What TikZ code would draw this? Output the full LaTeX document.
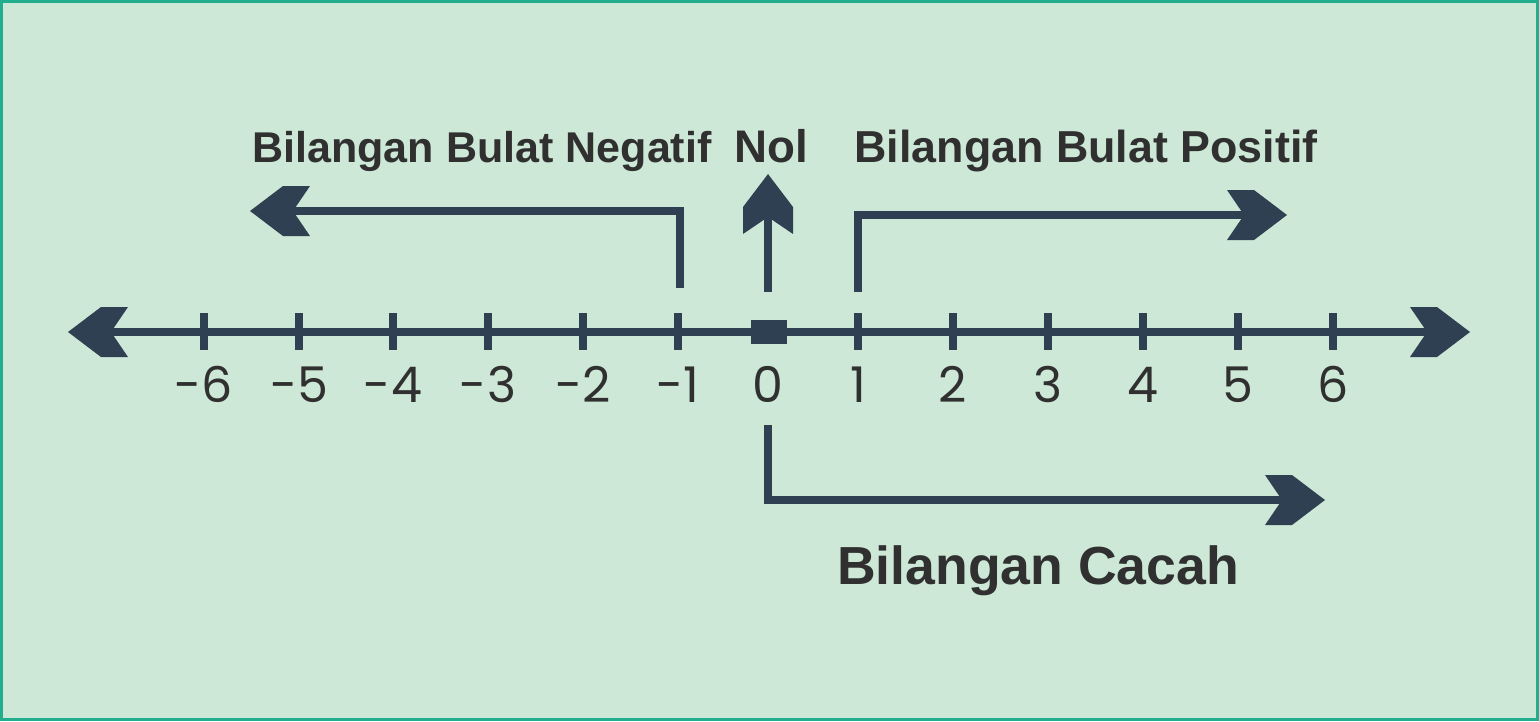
\documentclass[tikz,border=0pt]{standalone}
\usepackage{fontspec}
\setmainfont{Liberation Sans}
\newfontfamily\numfont{Poppins}
\usetikzlibrary{arrows.meta}

\definecolor{bgmint}{HTML}{CDE8D6}
\definecolor{rimteal}{HTML}{22AE8C}
\definecolor{slate}{HTML}{2F4052}
\definecolor{inkgray}{HTML}{303030}

% chunky chevron head
\pgfdeclarearrow{
  name=Chevron,
  setup code={
    \pgfarrowssettipend{0pt}
    \pgfarrowssetbackend{-1.2cm}
    \pgfarrowssetlineend{-0.75cm}
    \pgfarrowshullpoint{0pt}{0pt}
    \pgfarrowsupperhullpoint{-1.2cm}{0.5cm}
  },
  drawing code={
    \pgfpathmoveto{\pgfpoint{0cm}{0cm}}
    \pgfpathlineto{\pgfpoint{-0.66cm}{0.5cm}}
    \pgfpathlineto{\pgfpoint{-1.2cm}{0.5cm}}
    \pgfpathlineto{\pgfpoint{-0.86cm}{0cm}}
    \pgfpathlineto{\pgfpoint{-1.2cm}{-0.5cm}}
    \pgfpathlineto{\pgfpoint{-0.66cm}{-0.5cm}}
    \pgfpathclose
    \pgfusepathqfill
  }
}

\tikzset{
  axisline/.style={draw=slate, line width=4.5pt, Chevron-Chevron},
  conn/.style={draw=slate, line width=4pt, -Chevron},
  tickmark/.style={draw=slate, line width=4pt},
  zerobox/.style={fill=slate, minimum width=0.72cm, minimum height=0.48cm, inner sep=0pt},
  numlabel/.style={anchor=base, inner sep=0pt, text=inkgray, font=\numfont\fontsize{28}{30}\selectfont},
  toplabel/.style={anchor=base, inner sep=0pt, text=inkgray, font=\bfseries\fontsize{25}{30}\selectfont},
  biglabel/.style={anchor=base, inner sep=0pt, text=inkgray, font=\bfseries\fontsize{30.5}{34}\selectfont}
}

\begin{document}
\begin{tikzpicture}[x=0.02cm, y=-0.02cm]
  \useasboundingbox (0,0) rectangle (1539,721);
  \fill[bgmint] (0,0) rectangle (1539,721);
  \draw[rimteal, line width=1.7pt] (1.5,1.5) rectangle (1537.5,719.5);

  % number line
  \coordinate (west) at (68,332);
  \coordinate (east) at (1470,332);
  \draw[axisline] (west) -- (east);
  \foreach \n/\x in {-6/204,-5/299,-4/393,-3/488,-2/583,-1/678,1/858,2/953,3/1048,4/1143,5/1238,6/1333}{
    \draw[tickmark] (\x,313) -- (\x,350);
    \node[numlabel] (n\n) at (\x,402) {\n};
  }
  \node[zerobox] (zero) at (769,332) {};
  \node[numlabel] (n0) at (768,402) {0};

  % labels
  \node[toplabel, font=\bfseries\fontsize{24.5}{30}\selectfont] (negatif) at (482,162) {Bilangan Bulat Negatif};
  \node[toplabel, font=\bfseries\fontsize{26}{30}\selectfont] (nol) at (771,162) {Nol};
  \node[toplabel, font=\bfseries\fontsize{25.5}{30}\selectfont] (positif) at (1086,162) {Bilangan Bulat Positif};
  \node[biglabel] (cacah) at (1038,584) {Bilangan Cacah};

  % pointers
  \coordinate (negfoot) at (680,288);
  \coordinate (negtip) at (250,211);
  \coordinate (nolfoot) at (768,292);
  \coordinate (noltip) at (768,174);
  \coordinate (posfoot) at (858,292);
  \coordinate (postip) at (1287,215);
  \coordinate (cacfoot) at (768,425);
  \coordinate (cactip) at (1325,500);
  \draw[conn] (negfoot) |- (negtip);
  \draw[conn] (nolfoot) -- (noltip);
  \draw[conn] (posfoot) |- (postip);
  \draw[conn] (cacfoot) |- (cactip);
\end{tikzpicture}
\end{document}
